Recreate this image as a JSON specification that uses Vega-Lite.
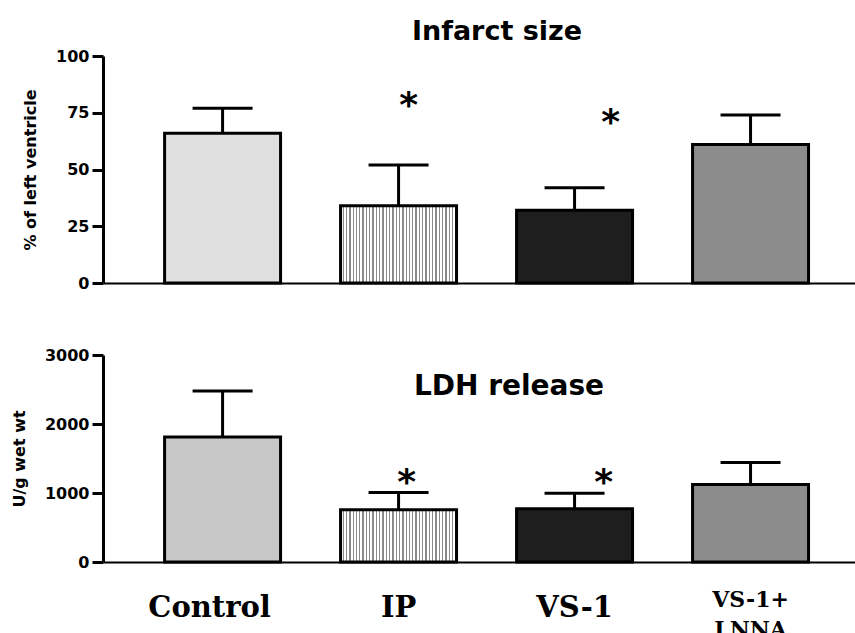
{
  "$schema": "https://vega.github.io/schema/vega-lite/v6.json",
  "autosize": {"type": "pad"},
  "padding": {"left": 11, "top": 18, "right": 0, "bottom": 0},
  "background": "white",
  "spacing": 56,
  "datasets": {
    "infarct": [
      {"group": "Control", "mean": 66, "err": 77},
      {"group": "IP", "mean": 34, "err": 52},
      {"group": "VS-1", "mean": 32, "err": 42},
      {"group": "VS-1+LNNA", "mean": 61, "err": 74}
    ],
    "ldh": [
      {"group": "Control", "mean": 1812, "err": 2478},
      {"group": "IP", "mean": 756, "err": 1006},
      {"group": "VS-1", "mean": 772, "err": 996},
      {"group": "VS-1+LNNA", "mean": 1122, "err": 1441}
    ]
  },
  "vconcat": [
    {
      "width": 752,
      "height": 227,
      "data": {"name": "infarct"},
      "title": {
        "text": "Infarct  size",
        "font": "DejaVu Sans",
        "fontSize": 27,
        "fontWeight": "bold",
        "color": "black",
        "frame": "group",
        "anchor": "middle",
        "baseline": "alphabetic",
        "dx": 18,
        "offset": -19
      },
      "encoding": {
        "x": {
          "field": "group",
          "type": "nominal",
          "sort": null,
          "scale": {"type": "band", "paddingInner": 0.341, "paddingOuter": 0.307, "align": 0.57},
          "axis": {"title": null, "labels": false, "ticks": false, "domainColor": "black", "domainWidth": 2}
        }
      },
      "layer": [
        {
          "mark": {"type": "bar", "stroke": "black", "strokeWidth": 3},
          "encoding": {
            "y": {
              "field": "mean",
              "type": "quantitative",
              "scale": {"domain": [0, 100], "nice": false},
              "axis": {"title": "% of left ventricle", "values": [0, 25, 50, 75, 100], "format": "d"}
            },
            "fill": {
              "condition": [
                {"test": "datum.group === 'Control'", "value": "#e0e0e0"},
                {"test": "datum.group === 'IP'", "value": {"gradient": "linear", "x1": 0, "y1": 0, "x2": 1, "y2": 0, "stops": [
                  {"offset": 0, "color": "#ffffff"}, {"offset": 0.0171, "color": "#ffffff"}, {"offset": 0.0171, "color": "#8a8a8a"}, {"offset": 0.0286, "color": "#8a8a8a"},
                  {"offset": 0.0286, "color": "#ffffff"}, {"offset": 0.0457, "color": "#ffffff"}, {"offset": 0.0457, "color": "#8a8a8a"}, {"offset": 0.0571, "color": "#8a8a8a"},
                  {"offset": 0.0571, "color": "#ffffff"}, {"offset": 0.0743, "color": "#ffffff"}, {"offset": 0.0743, "color": "#8a8a8a"}, {"offset": 0.0857, "color": "#8a8a8a"},
                  {"offset": 0.0857, "color": "#ffffff"}, {"offset": 0.1029, "color": "#ffffff"}, {"offset": 0.1029, "color": "#8a8a8a"}, {"offset": 0.1143, "color": "#8a8a8a"},
                  {"offset": 0.1143, "color": "#ffffff"}, {"offset": 0.1314, "color": "#ffffff"}, {"offset": 0.1314, "color": "#8a8a8a"}, {"offset": 0.1429, "color": "#8a8a8a"},
                  {"offset": 0.1429, "color": "#ffffff"}, {"offset": 0.16, "color": "#ffffff"}, {"offset": 0.16, "color": "#8a8a8a"}, {"offset": 0.1714, "color": "#8a8a8a"},
                  {"offset": 0.1714, "color": "#ffffff"}, {"offset": 0.1886, "color": "#ffffff"}, {"offset": 0.1886, "color": "#8a8a8a"}, {"offset": 0.2, "color": "#8a8a8a"},
                  {"offset": 0.2, "color": "#ffffff"}, {"offset": 0.2171, "color": "#ffffff"}, {"offset": 0.2171, "color": "#8a8a8a"}, {"offset": 0.2286, "color": "#8a8a8a"},
                  {"offset": 0.2286, "color": "#ffffff"}, {"offset": 0.2457, "color": "#ffffff"}, {"offset": 0.2457, "color": "#8a8a8a"}, {"offset": 0.2571, "color": "#8a8a8a"},
                  {"offset": 0.2571, "color": "#ffffff"}, {"offset": 0.2743, "color": "#ffffff"}, {"offset": 0.2743, "color": "#8a8a8a"}, {"offset": 0.2857, "color": "#8a8a8a"},
                  {"offset": 0.2857, "color": "#ffffff"}, {"offset": 0.3029, "color": "#ffffff"}, {"offset": 0.3029, "color": "#8a8a8a"}, {"offset": 0.3143, "color": "#8a8a8a"},
                  {"offset": 0.3143, "color": "#ffffff"}, {"offset": 0.3314, "color": "#ffffff"}, {"offset": 0.3314, "color": "#8a8a8a"}, {"offset": 0.3429, "color": "#8a8a8a"},
                  {"offset": 0.3429, "color": "#ffffff"}, {"offset": 0.36, "color": "#ffffff"}, {"offset": 0.36, "color": "#8a8a8a"}, {"offset": 0.3714, "color": "#8a8a8a"},
                  {"offset": 0.3714, "color": "#ffffff"}, {"offset": 0.3886, "color": "#ffffff"}, {"offset": 0.3886, "color": "#8a8a8a"}, {"offset": 0.4, "color": "#8a8a8a"},
                  {"offset": 0.4, "color": "#ffffff"}, {"offset": 0.4171, "color": "#ffffff"}, {"offset": 0.4171, "color": "#8a8a8a"}, {"offset": 0.4286, "color": "#8a8a8a"},
                  {"offset": 0.4286, "color": "#ffffff"}, {"offset": 0.4457, "color": "#ffffff"}, {"offset": 0.4457, "color": "#8a8a8a"}, {"offset": 0.4571, "color": "#8a8a8a"},
                  {"offset": 0.4571, "color": "#ffffff"}, {"offset": 0.4743, "color": "#ffffff"}, {"offset": 0.4743, "color": "#8a8a8a"}, {"offset": 0.4857, "color": "#8a8a8a"},
                  {"offset": 0.4857, "color": "#ffffff"}, {"offset": 0.5029, "color": "#ffffff"}, {"offset": 0.5029, "color": "#8a8a8a"}, {"offset": 0.5143, "color": "#8a8a8a"},
                  {"offset": 0.5143, "color": "#ffffff"}, {"offset": 0.5314, "color": "#ffffff"}, {"offset": 0.5314, "color": "#8a8a8a"}, {"offset": 0.5429, "color": "#8a8a8a"},
                  {"offset": 0.5429, "color": "#ffffff"}, {"offset": 0.56, "color": "#ffffff"}, {"offset": 0.56, "color": "#8a8a8a"}, {"offset": 0.5714, "color": "#8a8a8a"},
                  {"offset": 0.5714, "color": "#ffffff"}, {"offset": 0.5886, "color": "#ffffff"}, {"offset": 0.5886, "color": "#8a8a8a"}, {"offset": 0.6, "color": "#8a8a8a"},
                  {"offset": 0.6, "color": "#ffffff"}, {"offset": 0.6171, "color": "#ffffff"}, {"offset": 0.6171, "color": "#8a8a8a"}, {"offset": 0.6286, "color": "#8a8a8a"},
                  {"offset": 0.6286, "color": "#ffffff"}, {"offset": 0.6457, "color": "#ffffff"}, {"offset": 0.6457, "color": "#8a8a8a"}, {"offset": 0.6571, "color": "#8a8a8a"},
                  {"offset": 0.6571, "color": "#ffffff"}, {"offset": 0.6743, "color": "#ffffff"}, {"offset": 0.6743, "color": "#8a8a8a"}, {"offset": 0.6857, "color": "#8a8a8a"},
                  {"offset": 0.6857, "color": "#ffffff"}, {"offset": 0.7029, "color": "#ffffff"}, {"offset": 0.7029, "color": "#8a8a8a"}, {"offset": 0.7143, "color": "#8a8a8a"},
                  {"offset": 0.7143, "color": "#ffffff"}, {"offset": 0.7314, "color": "#ffffff"}, {"offset": 0.7314, "color": "#8a8a8a"}, {"offset": 0.7429, "color": "#8a8a8a"},
                  {"offset": 0.7429, "color": "#ffffff"}, {"offset": 0.76, "color": "#ffffff"}, {"offset": 0.76, "color": "#8a8a8a"}, {"offset": 0.7714, "color": "#8a8a8a"},
                  {"offset": 0.7714, "color": "#ffffff"}, {"offset": 0.7886, "color": "#ffffff"}, {"offset": 0.7886, "color": "#8a8a8a"}, {"offset": 0.8, "color": "#8a8a8a"},
                  {"offset": 0.8, "color": "#ffffff"}, {"offset": 0.8171, "color": "#ffffff"}, {"offset": 0.8171, "color": "#8a8a8a"}, {"offset": 0.8286, "color": "#8a8a8a"},
                  {"offset": 0.8286, "color": "#ffffff"}, {"offset": 0.8457, "color": "#ffffff"}, {"offset": 0.8457, "color": "#8a8a8a"}, {"offset": 0.8571, "color": "#8a8a8a"},
                  {"offset": 0.8571, "color": "#ffffff"}, {"offset": 0.8743, "color": "#ffffff"}, {"offset": 0.8743, "color": "#8a8a8a"}, {"offset": 0.8857, "color": "#8a8a8a"},
                  {"offset": 0.8857, "color": "#ffffff"}, {"offset": 0.9029, "color": "#ffffff"}, {"offset": 0.9029, "color": "#8a8a8a"}, {"offset": 0.9143, "color": "#8a8a8a"},
                  {"offset": 0.9143, "color": "#ffffff"}, {"offset": 0.9314, "color": "#ffffff"}, {"offset": 0.9314, "color": "#8a8a8a"}, {"offset": 0.9429, "color": "#8a8a8a"},
                  {"offset": 0.9429, "color": "#ffffff"}, {"offset": 0.96, "color": "#ffffff"}, {"offset": 0.96, "color": "#8a8a8a"}, {"offset": 0.9714, "color": "#8a8a8a"},
                  {"offset": 0.9714, "color": "#ffffff"}, {"offset": 0.9886, "color": "#ffffff"}, {"offset": 0.9886, "color": "#8a8a8a"}, {"offset": 1, "color": "#8a8a8a"}
                ]}},
                {"test": "datum.group === 'VS-1'", "value": "#1e1e1e"}
              ],
              "value": "#8c8c8c"
            }
          }
        },
        {
          "mark": {"type": "rule", "stroke": "black", "strokeWidth": 3},
          "encoding": {
            "y": {"field": "err", "type": "quantitative", "title": "% of left ventricle"},
            "y2": {"field": "mean"}
          }
        },
        {
          "mark": {"type": "tick", "color": "black", "size": 60, "thickness": 3, "opacity": 1},
          "encoding": {
            "y": {"field": "err", "type": "quantitative", "title": "% of left ventricle"}
          }
        },
        {
          "transform": [{"filter": "datum.group === 'IP'"}],
          "mark": {"type": "text", "text": "*", "font": "DejaVu Sans", "fontWeight": "bold", "fontSize": 36, "color": "black", "baseline": "alphabetic", "dx": 10, "dy": -48},
          "encoding": {
            "y": {"field": "err", "type": "quantitative", "title": "% of left ventricle"}
          }
        },
        {
          "transform": [{"filter": "datum.group === 'VS-1'"}],
          "mark": {"type": "text", "text": "*", "font": "DejaVu Sans", "fontWeight": "bold", "fontSize": 36, "color": "black", "baseline": "alphabetic", "dx": 36, "dy": -54},
          "encoding": {
            "y": {"field": "err", "type": "quantitative", "title": "% of left ventricle"}
          }
        }
      ]
    },
    {
      "width": 752,
      "height": 207,
      "data": {"name": "ldh"},
      "title": {
        "text": "LDH release",
        "font": "DejaVu Sans",
        "fontSize": 28,
        "fontWeight": "bold",
        "color": "black",
        "frame": "group",
        "anchor": "middle",
        "baseline": "alphabetic",
        "dx": 30,
        "offset": -76
      },
      "encoding": {
        "x": {
          "field": "group",
          "type": "nominal",
          "sort": null,
          "scale": {"type": "band", "paddingInner": 0.341, "paddingOuter": 0.307, "align": 0.57},
          "axis": {
            "title": null,
            "ticks": false,
            "domainColor": "black",
            "domainWidth": 2,
            "labelAngle": 0,
            "labelFont": "DejaVu Serif",
            "labelFontWeight": "bold",
            "labelColor": "black",
            "labelFontSize": {"condition": {"test": "datum.value === 'VS-1+LNNA'", "value": 22}, "value": 29},
            "labelPadding": {"condition": {"test": "datum.value === 'VS-1+LNNA'", "value": 27}, "value": 31},
            "labelOffset": {"condition": {"test": "datum.value === 'Control'", "value": -13}, "value": 0},
            "labelBaseline": "top",
            "labelLineHeight": 30,
            "labelExpr": "datum.value === 'VS-1+LNNA' ? ['VS-1+', 'LNNA'] : datum.value"
          }
        }
      },
      "layer": [
        {
          "mark": {"type": "bar", "stroke": "black", "strokeWidth": 3},
          "encoding": {
            "y": {
              "field": "mean",
              "type": "quantitative",
              "scale": {"domain": [0, 3000], "nice": false},
              "axis": {"title": "U/g wet wt", "values": [0, 1000, 2000, 3000], "format": "d"}
            },
            "fill": {
              "condition": [
                {"test": "datum.group === 'Control'", "value": "#c8c8c8"},
                {"test": "datum.group === 'IP'", "value": {"gradient": "linear", "x1": 0, "y1": 0, "x2": 1, "y2": 0, "stops": [
                  {"offset": 0, "color": "#ffffff"}, {"offset": 0.0171, "color": "#ffffff"}, {"offset": 0.0171, "color": "#8a8a8a"}, {"offset": 0.0286, "color": "#8a8a8a"},
                  {"offset": 0.0286, "color": "#ffffff"}, {"offset": 0.0457, "color": "#ffffff"}, {"offset": 0.0457, "color": "#8a8a8a"}, {"offset": 0.0571, "color": "#8a8a8a"},
                  {"offset": 0.0571, "color": "#ffffff"}, {"offset": 0.0743, "color": "#ffffff"}, {"offset": 0.0743, "color": "#8a8a8a"}, {"offset": 0.0857, "color": "#8a8a8a"},
                  {"offset": 0.0857, "color": "#ffffff"}, {"offset": 0.1029, "color": "#ffffff"}, {"offset": 0.1029, "color": "#8a8a8a"}, {"offset": 0.1143, "color": "#8a8a8a"},
                  {"offset": 0.1143, "color": "#ffffff"}, {"offset": 0.1314, "color": "#ffffff"}, {"offset": 0.1314, "color": "#8a8a8a"}, {"offset": 0.1429, "color": "#8a8a8a"},
                  {"offset": 0.1429, "color": "#ffffff"}, {"offset": 0.16, "color": "#ffffff"}, {"offset": 0.16, "color": "#8a8a8a"}, {"offset": 0.1714, "color": "#8a8a8a"},
                  {"offset": 0.1714, "color": "#ffffff"}, {"offset": 0.1886, "color": "#ffffff"}, {"offset": 0.1886, "color": "#8a8a8a"}, {"offset": 0.2, "color": "#8a8a8a"},
                  {"offset": 0.2, "color": "#ffffff"}, {"offset": 0.2171, "color": "#ffffff"}, {"offset": 0.2171, "color": "#8a8a8a"}, {"offset": 0.2286, "color": "#8a8a8a"},
                  {"offset": 0.2286, "color": "#ffffff"}, {"offset": 0.2457, "color": "#ffffff"}, {"offset": 0.2457, "color": "#8a8a8a"}, {"offset": 0.2571, "color": "#8a8a8a"},
                  {"offset": 0.2571, "color": "#ffffff"}, {"offset": 0.2743, "color": "#ffffff"}, {"offset": 0.2743, "color": "#8a8a8a"}, {"offset": 0.2857, "color": "#8a8a8a"},
                  {"offset": 0.2857, "color": "#ffffff"}, {"offset": 0.3029, "color": "#ffffff"}, {"offset": 0.3029, "color": "#8a8a8a"}, {"offset": 0.3143, "color": "#8a8a8a"},
                  {"offset": 0.3143, "color": "#ffffff"}, {"offset": 0.3314, "color": "#ffffff"}, {"offset": 0.3314, "color": "#8a8a8a"}, {"offset": 0.3429, "color": "#8a8a8a"},
                  {"offset": 0.3429, "color": "#ffffff"}, {"offset": 0.36, "color": "#ffffff"}, {"offset": 0.36, "color": "#8a8a8a"}, {"offset": 0.3714, "color": "#8a8a8a"},
                  {"offset": 0.3714, "color": "#ffffff"}, {"offset": 0.3886, "color": "#ffffff"}, {"offset": 0.3886, "color": "#8a8a8a"}, {"offset": 0.4, "color": "#8a8a8a"},
                  {"offset": 0.4, "color": "#ffffff"}, {"offset": 0.4171, "color": "#ffffff"}, {"offset": 0.4171, "color": "#8a8a8a"}, {"offset": 0.4286, "color": "#8a8a8a"},
                  {"offset": 0.4286, "color": "#ffffff"}, {"offset": 0.4457, "color": "#ffffff"}, {"offset": 0.4457, "color": "#8a8a8a"}, {"offset": 0.4571, "color": "#8a8a8a"},
                  {"offset": 0.4571, "color": "#ffffff"}, {"offset": 0.4743, "color": "#ffffff"}, {"offset": 0.4743, "color": "#8a8a8a"}, {"offset": 0.4857, "color": "#8a8a8a"},
                  {"offset": 0.4857, "color": "#ffffff"}, {"offset": 0.5029, "color": "#ffffff"}, {"offset": 0.5029, "color": "#8a8a8a"}, {"offset": 0.5143, "color": "#8a8a8a"},
                  {"offset": 0.5143, "color": "#ffffff"}, {"offset": 0.5314, "color": "#ffffff"}, {"offset": 0.5314, "color": "#8a8a8a"}, {"offset": 0.5429, "color": "#8a8a8a"},
                  {"offset": 0.5429, "color": "#ffffff"}, {"offset": 0.56, "color": "#ffffff"}, {"offset": 0.56, "color": "#8a8a8a"}, {"offset": 0.5714, "color": "#8a8a8a"},
                  {"offset": 0.5714, "color": "#ffffff"}, {"offset": 0.5886, "color": "#ffffff"}, {"offset": 0.5886, "color": "#8a8a8a"}, {"offset": 0.6, "color": "#8a8a8a"},
                  {"offset": 0.6, "color": "#ffffff"}, {"offset": 0.6171, "color": "#ffffff"}, {"offset": 0.6171, "color": "#8a8a8a"}, {"offset": 0.6286, "color": "#8a8a8a"},
                  {"offset": 0.6286, "color": "#ffffff"}, {"offset": 0.6457, "color": "#ffffff"}, {"offset": 0.6457, "color": "#8a8a8a"}, {"offset": 0.6571, "color": "#8a8a8a"},
                  {"offset": 0.6571, "color": "#ffffff"}, {"offset": 0.6743, "color": "#ffffff"}, {"offset": 0.6743, "color": "#8a8a8a"}, {"offset": 0.6857, "color": "#8a8a8a"},
                  {"offset": 0.6857, "color": "#ffffff"}, {"offset": 0.7029, "color": "#ffffff"}, {"offset": 0.7029, "color": "#8a8a8a"}, {"offset": 0.7143, "color": "#8a8a8a"},
                  {"offset": 0.7143, "color": "#ffffff"}, {"offset": 0.7314, "color": "#ffffff"}, {"offset": 0.7314, "color": "#8a8a8a"}, {"offset": 0.7429, "color": "#8a8a8a"},
                  {"offset": 0.7429, "color": "#ffffff"}, {"offset": 0.76, "color": "#ffffff"}, {"offset": 0.76, "color": "#8a8a8a"}, {"offset": 0.7714, "color": "#8a8a8a"},
                  {"offset": 0.7714, "color": "#ffffff"}, {"offset": 0.7886, "color": "#ffffff"}, {"offset": 0.7886, "color": "#8a8a8a"}, {"offset": 0.8, "color": "#8a8a8a"},
                  {"offset": 0.8, "color": "#ffffff"}, {"offset": 0.8171, "color": "#ffffff"}, {"offset": 0.8171, "color": "#8a8a8a"}, {"offset": 0.8286, "color": "#8a8a8a"},
                  {"offset": 0.8286, "color": "#ffffff"}, {"offset": 0.8457, "color": "#ffffff"}, {"offset": 0.8457, "color": "#8a8a8a"}, {"offset": 0.8571, "color": "#8a8a8a"},
                  {"offset": 0.8571, "color": "#ffffff"}, {"offset": 0.8743, "color": "#ffffff"}, {"offset": 0.8743, "color": "#8a8a8a"}, {"offset": 0.8857, "color": "#8a8a8a"},
                  {"offset": 0.8857, "color": "#ffffff"}, {"offset": 0.9029, "color": "#ffffff"}, {"offset": 0.9029, "color": "#8a8a8a"}, {"offset": 0.9143, "color": "#8a8a8a"},
                  {"offset": 0.9143, "color": "#ffffff"}, {"offset": 0.9314, "color": "#ffffff"}, {"offset": 0.9314, "color": "#8a8a8a"}, {"offset": 0.9429, "color": "#8a8a8a"},
                  {"offset": 0.9429, "color": "#ffffff"}, {"offset": 0.96, "color": "#ffffff"}, {"offset": 0.96, "color": "#8a8a8a"}, {"offset": 0.9714, "color": "#8a8a8a"},
                  {"offset": 0.9714, "color": "#ffffff"}, {"offset": 0.9886, "color": "#ffffff"}, {"offset": 0.9886, "color": "#8a8a8a"}, {"offset": 1, "color": "#8a8a8a"}
                ]}},
                {"test": "datum.group === 'VS-1'", "value": "#1e1e1e"}
              ],
              "value": "#8c8c8c"
            }
          }
        },
        {
          "mark": {"type": "rule", "stroke": "black", "strokeWidth": 3},
          "encoding": {
            "y": {"field": "err", "type": "quantitative", "title": "U/g wet wt"},
            "y2": {"field": "mean"}
          }
        },
        {
          "mark": {"type": "tick", "color": "black", "size": 60, "thickness": 3, "opacity": 1},
          "encoding": {
            "y": {"field": "err", "type": "quantitative", "title": "U/g wet wt"}
          }
        },
        {
          "transform": [{"filter": "datum.group === 'IP'"}],
          "mark": {"type": "text", "text": "*", "font": "DejaVu Sans", "fontWeight": "bold", "fontSize": 36, "color": "black", "baseline": "alphabetic", "dx": 8, "dy": 1},
          "encoding": {
            "y": {"field": "err", "type": "quantitative", "title": "U/g wet wt"}
          }
        },
        {
          "transform": [{"filter": "datum.group === 'VS-1'"}],
          "mark": {"type": "text", "text": "*", "font": "DejaVu Sans", "fontWeight": "bold", "fontSize": 36, "color": "black", "baseline": "alphabetic", "dx": 29, "dy": 1},
          "encoding": {
            "y": {"field": "err", "type": "quantitative", "title": "U/g wet wt"}
          }
        }
      ]
    }
  ],
  "config": {
    "view": {"stroke": null},
    "axisY": {
      "grid": false,
      "domainColor": "black",
      "domainWidth": 3,
      "tickColor": "black",
      "tickWidth": 3,
      "tickSize": 11,
      "labelFont": "DejaVu Sans",
      "labelFontWeight": "bold",
      "labelFontSize": 16,
      "labelColor": "black",
      "labelPadding": 3,
      "titleFont": "DejaVu Sans",
      "titleFontWeight": "bold",
      "titleFontSize": 16,
      "titleColor": "black",
      "titlePadding": 17
    },
    "axisX": {"grid": false}
  }
}
